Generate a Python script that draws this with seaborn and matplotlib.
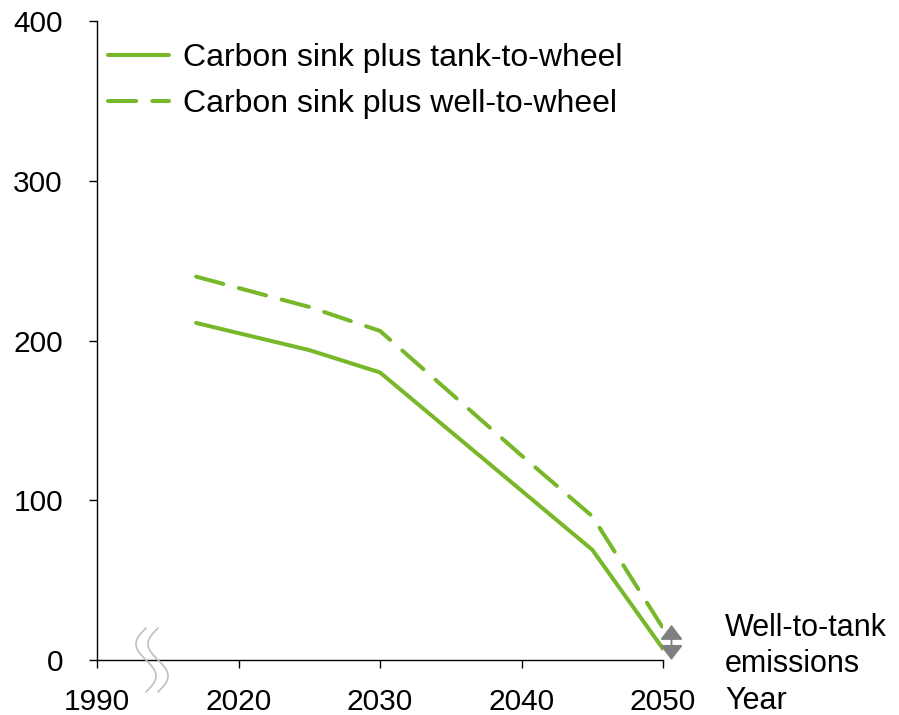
import numpy as np
import pandas as pd
import matplotlib
matplotlib.use("Agg")
import matplotlib.pyplot as plt
import seaborn as sns

# ---- data ----
years = [2017, 2025, 2030, 2040, 2045, 2050]
tank_to_wheel = [211, 194, 180, 106, 69, 7]
well_to_wheel = [240, 221, 206, 128, 90, 20]
series_names = ["Carbon sink plus tank-to-wheel", "Carbon sink plus well-to-wheel"]
xtick_pos = [2010, 2020, 2030, 2040, 2050]
xtick_labels = ["1990", "2020", "2030", "2040", "2050"]
ytick_vals = [0, 100, 200, 300, 400]
wtt_arrow = [0, 22]

sns.set_theme(style="ticks")
plt.rcParams["font.family"] = ["Liberation Sans", "DejaVu Sans"]
plt.rcParams["text.color"] = "black"

green = "#77b82a"
df = pd.DataFrame({
    "year": years * 2,
    "value": tank_to_wheel + well_to_wheel,
    "series": [series_names[0]] * len(years) + [series_names[1]] * len(years),
})

fig = plt.figure(figsize=(8.99, 7.15), dpi=100)
ax = fig.add_axes([97 / 899, 1 - 660 / 715, (663 - 97) / 899, (660 - 21) / 715])

sns.lineplot(data=df, x="year", y="value", style="series",
             dashes={series_names[0]: "", series_names[1]: (7, 4)},
             color=green, linewidth=2.9, ax=ax, legend=True)
for ln in ax.lines:
    ln.set_solid_capstyle("round")
    ln.set_dash_capstyle("round")

ax.set_xlim(2010, 2050)
ax.set_ylim(0, 400)
ax.set_xticks(xtick_pos)
ax.set_xticklabels(xtick_labels)
ax.set_yticks(ytick_vals)
ax.tick_params(axis="both", labelsize=21.5, length=6, width=1.0, color="black",
               labelcolor="black")
ax.tick_params(axis="x", pad=14.5)
ax.tick_params(axis="y", pad=18.5)
ax.set_xlabel("")
ax.set_ylabel("")
for s in ["top", "right"]:
    ax.spines[s].set_visible(False)
for s in ["left", "bottom"]:
    ax.spines[s].set_color("black")
    ax.spines[s].set_linewidth(1.0)
ax.grid(False)

leg = ax.legend(loc="upper left", bbox_to_anchor=(0.02, 0.965), frameon=False,
                fontsize=23, handlelength=1.9, handletextpad=0.45,
                labelspacing=0.5, borderpad=0, borderaxespad=0)
for h in leg.get_lines():
    h.set_linewidth(2.9)
    h.set_color(green)
for t in leg.get_texts():
    t.set_color("black")

# double arrow for well-to-tank emissions
ax.annotate("", xy=(2050.6, wtt_arrow[0]), xytext=(2050.6, wtt_arrow[1]),
            arrowprops=dict(arrowstyle="<|-|>,head_length=0.65,head_width=0.5",
                            color="#7f7f7f", lw=1.3,
                            mutation_scale=14, shrinkA=0, shrinkB=0),
            annotation_clip=False)

fig.text(725 / 899, 1 - 636 / 715, "Well-to-tank", fontsize=22, va="baseline", ha="left")
fig.text(725 / 899, 1 - 672 / 715, "emissions", fontsize=22, va="baseline", ha="left")
fig.text(725 / 899, 1 - 709 / 715, "Year", fontsize=22, va="baseline", ha="left")

# axis break marks (decoration)
t = np.linspace(0, 1, 80)
ys = 1 - (628 + 64 * t) / 715
for off in (0.0, 12.0):
    xs = (146 + off - 10 * np.sin(2 * np.pi * t)) / 899
    fig.add_artist(plt.Line2D(xs, ys, color="#c0c0c0", lw=1.2,
                              transform=fig.transFigure))

fig.savefig("out.png", dpi=100, facecolor="white")
